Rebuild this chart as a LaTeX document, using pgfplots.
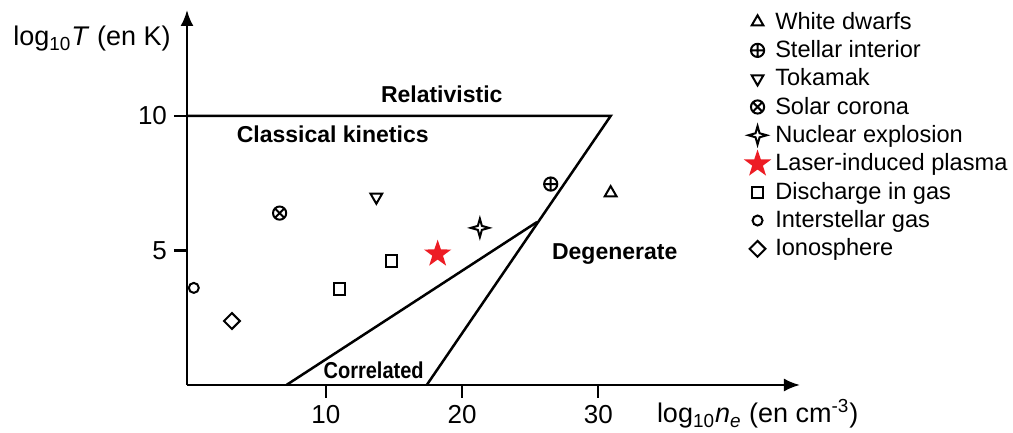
\documentclass[border=0pt]{standalone}
\usepackage{fontspec}
\setmainfont{Liberation Sans}
\usepackage{graphicx}
\usepackage{pgfplots}
\pgfplotsset{compat=1.18}
\usetikzlibrary{arrows.meta}

\definecolor{laserred}{RGB}{237,28,36}

% four-pointed star (outline) and five-pointed star (filled)
\pgfdeclareplotmark{star4}{%
  \pgfpathmoveto{\pgfqpoint{0pt}{\pgfplotmarksize}}%
  \pgfpathlineto{\pgfqpoint{0.22\pgfplotmarksize}{0.22\pgfplotmarksize}}%
  \pgfpathlineto{\pgfqpoint{\pgfplotmarksize}{0pt}}%
  \pgfpathlineto{\pgfqpoint{0.22\pgfplotmarksize}{-0.22\pgfplotmarksize}}%
  \pgfpathlineto{\pgfqpoint{0pt}{-\pgfplotmarksize}}%
  \pgfpathlineto{\pgfqpoint{-0.22\pgfplotmarksize}{-0.22\pgfplotmarksize}}%
  \pgfpathlineto{\pgfqpoint{-\pgfplotmarksize}{0pt}}%
  \pgfpathlineto{\pgfqpoint{-0.22\pgfplotmarksize}{0.22\pgfplotmarksize}}%
  \pgfpathclose\pgfusepathqstroke}
\pgfdeclareplotmark{fstar}{%
  \pgfpathmoveto{\pgfpointpolar{90}{\pgfplotmarksize}}%
  \pgfpathlineto{\pgfpointpolar{126}{0.39\pgfplotmarksize}}%
  \pgfpathlineto{\pgfpointpolar{162}{\pgfplotmarksize}}%
  \pgfpathlineto{\pgfpointpolar{198}{0.39\pgfplotmarksize}}%
  \pgfpathlineto{\pgfpointpolar{234}{\pgfplotmarksize}}%
  \pgfpathlineto{\pgfpointpolar{270}{0.39\pgfplotmarksize}}%
  \pgfpathlineto{\pgfpointpolar{306}{\pgfplotmarksize}}%
  \pgfpathlineto{\pgfpointpolar{342}{0.39\pgfplotmarksize}}%
  \pgfpathlineto{\pgfpointpolar{18}{\pgfplotmarksize}}%
  \pgfpathlineto{\pgfpointpolar{54}{0.39\pgfplotmarksize}}%
  \pgfpathclose\pgfusepathqfill}

\begin{document}
\begin{tikzpicture}
\begin{axis}[
    scale only axis,
    width=306.5pt, height=187.5pt,
    xmin=-0.2, xmax=44.8,
    ymin=0, ymax=13.94,
    axis lines=left,
    axis line style={line width=1.2pt, -{Latex[length=8pt,width=6.5pt]}},
    xtick={10,20,30}, ytick={5,10},
    tick align=outside,
    major tick length=6.5pt,
    tick style={black, line width=1.1pt},
    /pgf/number format/assume math mode=true,
    tick label style={font=\fontsize{13}{15}\selectfont},
    xlabel={log\textsubscript{10}\textit{n}\textsubscript{\textit{e}} (en cm\textsuperscript{-3})},
    xlabel style={font=\fontsize{13.5}{16}\selectfont, at={(axis description cs:0.931,0)}, anchor=base, yshift=-19pt},
    ylabel={log\textsubscript{10}\textit{T} (en K)},
    ylabel style={font=\fontsize{13.5}{16}\selectfont, rotate=-90, at={(axis description cs:-0.155,0.904)}, anchor=base},
    clip=false,
    legend cell align=left,
    legend style={draw=none, fill=none, at={(rel axis cs:0.898,1.017)}, anchor=north west,
        font=\fontsize{11.8}{13}\selectfont, row sep=0.1pt},
    every axis plot/.append style={only marks, black, line width=1pt, mark options={solid}},
]
% region boundaries
\addplot[forget plot, no marks, sharp plot, line width=1.25pt] coordinates {(-0.2,10) (30.9,10) (17.4,0)};
\addplot[forget plot, no marks, sharp plot, line width=1.25pt] coordinates {(7.1,0) (25.5,6.06)};

\addplot[mark=triangle, mark size=3.4pt] coordinates {(30.9,7.14)};
\addlegendentry{White dwarfs}
\addplot[mark=oplus, mark size=3.3pt] coordinates {(26.5,7.47)};
\addlegendentry{Stellar interior}
\addplot[mark=triangle, mark size=3.4pt, mark options={rotate=180}] coordinates {(13.7,6.99)};
\addlegendentry{Tokamak}
\addplot[mark=otimes, mark size=3.3pt] coordinates {(6.6,6.39)};
\addlegendentry{Solar corona}
\addplot[mark=star4, mark size=4.6pt] coordinates {(21.3,5.84)};
\addlegendentry{Nuclear explosion}
\addplot[mark=fstar, mark size=7.2pt, color=laserred] coordinates {(18.2,4.87)};
\addlegendentry{Laser-induced plasma}
\addplot[mark=square, mark size=2.8pt] coordinates {(14.8,4.61) (11.0,3.57)};
\addlegendentry{Discharge in gas}
\addplot[mark=o, mark size=2.5pt] coordinates {(0.3,3.61)};
\addlegendentry{Interstellar gas}
\addplot[mark=square, mark size=2.8pt, mark options={rotate=45}] coordinates {(3.1,2.38)};
\addlegendentry{Ionosphere}

\node[font=\fontsize{11.5}{13}\selectfont\bfseries] at (18.5,10.8) {Relativistic};
\node[font=\fontsize{11.5}{13}\selectfont\bfseries] at (10.5,9.33) {Classical kinetics};
\node[font=\fontsize{11.5}{13}\selectfont\bfseries] at (31.2,4.87) {Degenerate};
\node[font=\fontsize{11.5}{13}\selectfont\bfseries] at (13.5,0.56) {\scalebox{0.87}[1]{Correlated}};
\end{axis}
\pgfresetboundingbox
\path[use as bounding box] (-93.5pt,-24pt) rectangle (413pt,192.5pt);
\end{tikzpicture}
\end{document}
